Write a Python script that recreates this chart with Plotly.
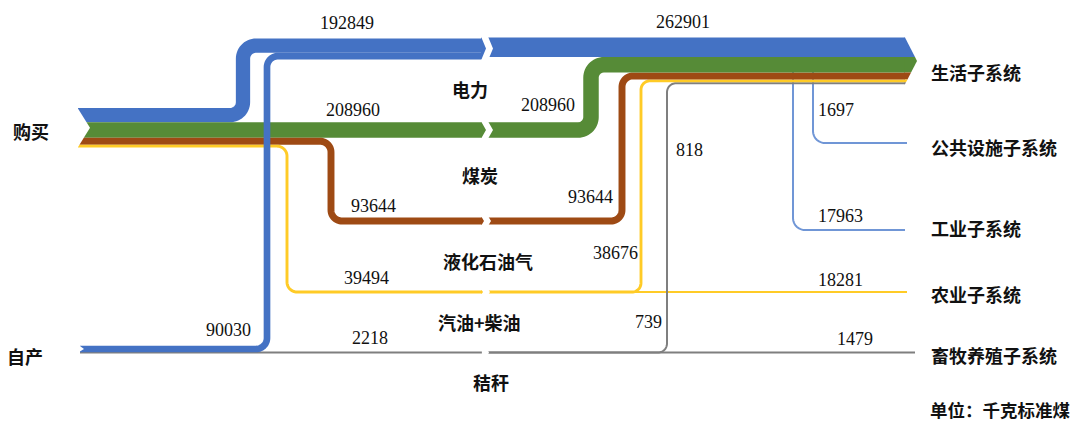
import numpy as np
import plotly.graph_objects as go

# ---------------- data ----------------
sources = ["购买", "自产"]
carriers = ["电力", "煤炭", "液化石油气", "汽油+柴油", "秸秆"]
sinks = ["生活子系统", "公共设施子系统", "工业子系统", "农业子系统", "畜牧养殖子系统"]
unit_note = "单位：千克标准煤"

# purchased energy, by carrier (电力, 煤炭, 液化石油气, 汽油+柴油)
purchase_values = [192849, 208960, 93644, 39494]
# self-produced energy (电力, 秸秆)
self_values = [90030, 2218]
# flows into 生活子系统 (电力, 煤炭, 液化石油气, 汽油+柴油, 秸秆)
living_values = [262901, 208960, 93644, 38676, 739]
# electricity to 公共设施 / 工业
elec_branch_values = [1697, 17963]
agri_value = 18281
lpg_side_value = 818
straw_livestock_value = 1479

# ---------------- styling / layout ----------------
W, H = 1080, 423
UNITS_PER_PX = 13500.0
MIN_W = 2.0
COL = {"电力": "#4472C4", "煤炭": "#568B37", "液化石油气": "#9E4A14",
       "汽油+柴油": "#FFCB26", "秸秆": "#7F7F7F"}
LIGHT_BLUE = "#7096D6"

X0 = 78            # left start of the purchase bundle
GAP_L, GAP_R = 481, 488
X_END = 905        # end of the 生活 bundle (arrow base)
TIP = 12

PURCHASE_TOP = 108
TOP_BAND_TOP = 38.5
LIVING_TOP = 37.5

def wpx(v):
    return max(v / UNITS_PER_PX, MIN_W)

def stack(top, values):
    centers, y = [], top
    for v in values:
        w = wpx(v)
        centers.append(y + w / 2)
        y += w
    return centers, y

def rounded(points, r, n=16):
    pts = [np.array(p, float) for p in points]
    xs, ys = [pts[0][0]], [pts[0][1]]
    for i in range(1, len(pts) - 1):
        p0, p1, p2 = pts[i - 1], pts[i], pts[i + 1]
        l1, l2 = np.linalg.norm(p1 - p0), np.linalg.norm(p2 - p1)
        d1, d2 = (p1 - p0) / l1, (p2 - p1) / l2
        rr = min(r, l1 / 2, l2 / 2)
        a = p1 - d1 * rr
        c = a + d2 * rr
        for t in np.linspace(0, np.pi / 2, n):
            q = c + (a - c) * np.cos(t) + (d1 * rr) * np.sin(t)
            xs.append(q[0]); ys.append(q[1])
    xs.append(pts[-1][0]); ys.append(pts[-1][1])
    return xs, ys

fig = go.Figure()

def flow(points, value, color, r=10, name=None):
    xs, ys = rounded(points, r)
    fig.add_trace(go.Scatter(x=xs, y=ys, mode="lines", name=name,
                             line=dict(color=color, width=wpx(value), simplify=False),
                             hoverinfo="skip", showlegend=False))

def poly(xs, ys, color):
    fig.add_trace(go.Scatter(x=xs, y=ys, mode="lines", fill="toself",
                             fillcolor=color, line=dict(width=0, color=color, simplify=False),
                             hoverinfo="skip", showlegend=False))

# bundle geometry derived from the values
p_cy, p_bot = stack(PURCHASE_TOP, purchase_values)
l_cy, l_bot = stack(LIVING_TOP, living_values)
t_cy, _ = stack(TOP_BAND_TOP, [purchase_values[0], self_values[0]])

ROW_COAL = p_cy[1]
ROW_LPG = 221
ROW_OIL = 292
ROW_STRAW = 352.5
ROW_SELF_E = 349
ROW_PUBLIC = 143
ROW_INDUSTRY = 230

# electricity branches to 公共设施 / 工业 (under the bundle)
flow([(813, l_cy[0]), (813, ROW_PUBLIC), (907, ROW_PUBLIC)], elec_branch_values[0], LIGHT_BLUE, r=12)
flow([(793, l_cy[0]), (793, ROW_INDUSTRY), (905, ROW_INDUSTRY)], elec_branch_values[1], LIGHT_BLUE, r=12)

# ---- purchase side ----
flow([(X0, p_cy[0]), (243, p_cy[0]), (243, t_cy[0]), (GAP_R, t_cy[0])],
     purchase_values[0], COL["电力"], r=13, name="电力")
flow([(X0, p_cy[1]), (GAP_R, p_cy[1])], purchase_values[1], COL["煤炭"], name="煤炭")
flow([(X0, p_cy[2]), (331, p_cy[2]), (331, ROW_LPG), (GAP_R, ROW_LPG)],
     purchase_values[2], COL["液化石油气"], r=11, name="液化石油气")
flow([(X0, p_cy[3]), (287, p_cy[3]), (287, ROW_OIL), (GAP_R, ROW_OIL)],
     purchase_values[3], COL["汽油+柴油"], r=10, name="汽油+柴油")

# ---- self-produced side ----
flow([(80, ROW_STRAW), (GAP_R, ROW_STRAW)], self_values[1], COL["秸秆"], name="秸秆")
flow([(80, ROW_SELF_E), (267, ROW_SELF_E), (267, t_cy[1]), (GAP_R, t_cy[1])],
     self_values[0], COL["电力"], r=11, name="电力")

# ---- consumption side ----
flow([(GAP_L, ROW_OIL), (907, ROW_OIL)], agri_value, COL["汽油+柴油"])
flow([(GAP_L, ROW_STRAW), (915, ROW_STRAW)], straw_livestock_value, COL["秸秆"])
flow([(GAP_L, ROW_STRAW), (667, ROW_STRAW), (667, l_cy[4]), (X_END, l_cy[4])],
     living_values[4], COL["秸秆"], r=9)
flow([(GAP_L, ROW_OIL), (641, ROW_OIL), (641, l_cy[3]), (X_END, l_cy[3])],
     living_values[3], COL["汽油+柴油"], r=9)
flow([(GAP_L, ROW_LPG), (622, ROW_LPG), (622, l_cy[2]), (X_END, l_cy[2])],
     living_values[2], COL["液化石油气"], r=11)
flow([(GAP_L, ROW_COAL), (591, ROW_COAL), (591, l_cy[1]), (X_END, l_cy[1])],
     living_values[1], COL["煤炭"], r=13)
flow([(GAP_L, l_cy[0]), (X_END, l_cy[0])], living_values[0], COL["电力"])

# arrow head of the 生活 bundle, split by carrier
tip_y = (LIVING_TOP + l_bot) / 2
def edge_x(y):
    if y <= tip_y:
        return X_END + TIP * (y - LIVING_TOP) / (tip_y - LIVING_TOP)
    return X_END + TIP * (l_bot - y) / (l_bot - tip_y)
y = LIVING_TOP
for name, v in zip(carriers, living_values):
    top, bot = y, y + wpx(v)
    xs = [X_END - 0.5, edge_x(top)]
    ys = [top, top]
    if top < tip_y < bot:
        xs.append(X_END + TIP); ys.append(tip_y)
    xs += [edge_x(bot), X_END - 0.5]
    ys += [bot, bot]
    poly(xs, ys, COL[name])
    y = bot

# chevron cuts at the middle column
def cut(top, bot, depth):
    m = (top + bot) / 2
    poly([GAP_L, GAP_R, GAP_R + depth, GAP_R, GAP_L, GAP_L + depth, GAP_L],
         [top, top, m, bot, bot, m, top], "white")

cut(LIVING_TOP - 1, t_cy[1] + wpx(self_values[0]) / 2 + 1, 5)
cut(ROW_COAL - wpx(purchase_values[1]) / 2 - 1, ROW_COAL + wpx(purchase_values[1]) / 2 + 1, 5)
cut(ROW_LPG - 5, ROW_LPG + 5, 3)
cut(ROW_OIL - 3, ROW_OIL + 3, 2)
cut(ROW_STRAW - 2, ROW_STRAW + 2, 1)

# tail notches on the source bundles
poly([X0 - 1, X0 + 12, X0 - 1], [PURCHASE_TOP - 1, (PURCHASE_TOP + p_bot) / 2, p_bot + 1], "white")
se_w = wpx(self_values[0])
poly([79, 84, 79], [ROW_SELF_E - se_w / 2 - 0.5, ROW_SELF_E, ROW_SELF_E + se_w / 2 - 0.3], "white")

# ---------------- text ----------------
NUM_FONT = dict(family="Liberation Serif", size=18, color="#111111")
CJK_FONT = dict(family="Noto Sans CJK SC", size=18, color="#111111", weight="bold")

value_labels = [
    (purchase_values[0], 347, 23), (living_values[0], 683, 22),
    (purchase_values[1], 353, 110), (living_values[1], 548, 105),
    (purchase_values[2], 373, 206), (living_values[2], 590, 197),
    (purchase_values[3], 366, 278), (living_values[3], 615, 253),
    (self_values[0], 228, 330), (self_values[1], 370, 338),
    (living_values[4], 648, 322), (straw_livestock_value, 855, 339),
    (lpg_side_value, 689, 150), (elec_branch_values[0], 836, 110),
    (elec_branch_values[1], 840, 216), (agri_value, 840, 280),
]
for v, x, yy in value_labels:
    fig.add_annotation(x=x, y=yy, text=str(v), showarrow=False, font=NUM_FONT,
                       xanchor="center", yanchor="middle")

text_labels = [
    (sources[0], 31, 131), (sources[1], 25, 356),
    (carriers[0], 470, 89), (carriers[1], 480, 175), (carriers[2], 488, 261),
    (carriers[3], 479, 322), (carriers[4], 491, 382),
]
for t, x, yy in text_labels:
    fig.add_annotation(x=x, y=yy, text=t, showarrow=False, font=CJK_FONT,
                       xanchor="center", yanchor="middle")

sink_rows = [72, 147, 228, 294, 355]
for t, yy in zip(sinks, sink_rows):
    fig.add_annotation(x=929, y=yy, text=t, showarrow=False, font=CJK_FONT,
                       xanchor="left", yanchor="middle")
# unit note sits on the bottom edge of the canvas
fig.add_annotation(x=929, y=H, text=unit_note, showarrow=False, borderpad=0,
                   font=dict(CJK_FONT, size=17.5), xanchor="left", yanchor="bottom")

fig.update_layout(
    width=W, height=H, margin=dict(l=0, r=0, t=0, b=0),
    paper_bgcolor="white", plot_bgcolor="white", showlegend=False,
    xaxis=dict(range=[0, W], visible=False, fixedrange=True),
    yaxis=dict(range=[H, 0], visible=False, fixedrange=True),
    hovermode=False,
)
fig.write_html("out.html")
